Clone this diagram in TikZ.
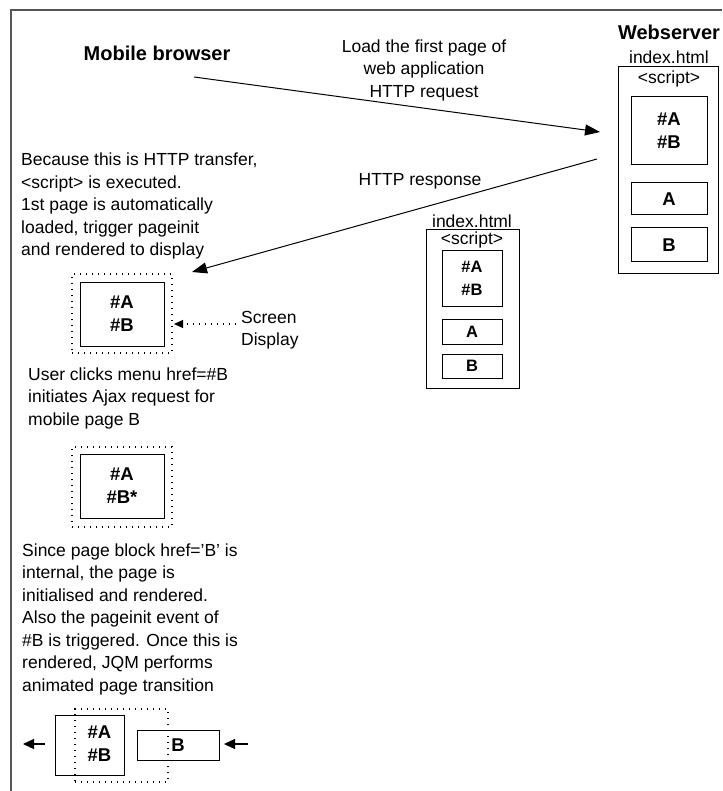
\documentclass[tikz,border=0pt]{standalone}
\usepackage{fontspec}
\setmainfont{Liberation Sans}
\usetikzlibrary{arrows.meta,positioning}
\definecolor{jqframe}{HTML}{555555}
\tikzset{
  frm/.style = {draw=jqframe, line width=1.5pt},
  pg/.style  = {rectangle, draw=black, line width=1pt, inner sep=0pt},
  scr/.style = {rectangle, draw=black, line width=1.2pt, inner sep=0pt,
                dash pattern=on 1.2pt off 4.8pt},
  ed/.style  = {-{Triangle[length=15pt,width=11pt]}, line width=1pt},
  eds/.style = {-{Triangle[length=11pt,width=10pt]}, line width=1.2pt},
  edd/.style = {-{Triangle[length=9pt,width=8pt]}, line width=1.2pt,
                dash pattern=on 1.2pt off 4.8pt},
  lbl/.style = {font=\fontsize{17.5}{22.5}\selectfont, inner sep=0pt},
  txt/.style = {lbl, align=left, anchor=west},
  hd/.style  = {font=\fontsize{20}{24}\selectfont\bfseries, inner sep=0pt},
  tag/.style = {font=\fontsize{18.5}{23}\selectfont\bfseries, align=center},
  tgs/.style = {font=\fontsize{16.5}{23}\selectfont\bfseries, align=center},
}

\begin{document}
\begin{tikzpicture}[x=1pt,y=-1pt]
  \useasboundingbox (0,0) rectangle (722,791);
  \draw[frm] (11,791) -- (11,10) -- (722,10);

  % --- webserver
  \node[hd] (web) at (669,32) {Webserver};
  \node[lbl] (srvfile) at (669,57) {index.html};
  \node[pg, minimum width=100pt, minimum height=206pt] (srv) at (668,170) {};
  \node[lbl] (srvscr) at (669,79) {<script>};
  \node[pg, tag, minimum width=76pt, minimum height=68pt] (srvAB) at (669,131) {\#A\\\#B};
  \node[pg, tag, minimum width=76pt, minimum height=32pt] (srvA) at (669,199) {A};
  \node[pg, tag, minimum width=76pt, minimum height=34pt] (srvB) at (669,245) {B};

  % --- copy sent back
  \node[lbl] (cpyfile) at (472,221) {index.html};
  \node[pg, minimum width=93pt, minimum height=158pt] (cpy) at (472.5,309) {};
  \node[lbl] (cpyscr) at (472,240) {<script>};
  \node[pg, tgs, minimum width=60pt, minimum height=55pt] (cpyAB) at (472,278.5) {\#A\\\#B};
  \node[pg, tgs, minimum width=60pt, minimum height=25pt] (cpyA) at (472,331.5) {A};
  \node[pg, tgs, minimum width=60pt, minimum height=24pt] (cpyB) at (472,366) {B};

  % --- request / response
  \node[hd] (mob) at (157,53) {Mobile browser};
  \node[lbl, align=center] (reqlbl) at (424,70) {Load the first page of\\web application\\HTTP request};
  \coordinate (reqfrom) at (194,77);
  \coordinate (reqto) at (600,132);
  \draw[ed] (reqfrom) -- (reqto);
  \node[lbl] (reslbl) at (420,181) {HTTP response};
  \coordinate (resfrom) at (597,159);
  \coordinate (resto) at (192,272);
  \draw[ed] (resfrom) -- (resto);

  % --- first display
  \node[txt] (txt1) at (21,206) {Because this is HTTP transfer,\\<script> is executed.\\1st page is automatically\\loaded, trigger pageinit\\and rendered to display};
  \node[scr, minimum width=100pt, minimum height=79pt] (dsp1) at (122,313.5) {};
  \node[pg, tag, minimum width=84pt, minimum height=64pt] (pg1) at (122,314) {\#A\\\#B};
  \node[txt, align=left] (scrlbl) at (241,330) {Screen\\Display};
  \coordinate (scrfrom) at (236,324);
  \coordinate (scrto) at (174,324);
  \draw[edd] (scrfrom) -- (scrto);

  % --- click on #B
  \node[txt] (txt2) at (28,398) {User clicks menu href=\#B\\initiates Ajax request for\\mobile page B};
  \node[scr, minimum width=100pt, minimum height=80pt] (dsp2) at (122,487) {};
  \node[pg, tag, minimum width=84pt, minimum height=64pt] (pg2) at (122,486) {\#A\\\#B*};

  % --- transition
  \node[txt] (txt3) at (22,619) {Since page block href='B' is\\internal, the page is\\initialised and rendered.\\Also the pageinit event of\\\#B is triggered. Once this is\\rendered, JQM performs\\animated page transition};
  \node[scr, minimum width=93pt, minimum height=73pt] (dsp3) at (121.5,745.5) {};
  \node[pg, minimum width=69pt, minimum height=60pt] (old) at (89.5,745) {};
  \node[tag] (oldtag) at (99.5,744) {\#A\\\#B};
  \node[pg, tag, minimum width=82pt, minimum height=30pt] (new) at (178,745) {B};
  \coordinate (outfrom) at (45,744);
  \coordinate (outto) at (23,744);
  \draw[eds] (outfrom) -- (outto);
  \coordinate (infrom) at (248,744);
  \coordinate (into) at (224,744);
  \draw[eds] (infrom) -- (into);
\end{tikzpicture}
\end{document}
